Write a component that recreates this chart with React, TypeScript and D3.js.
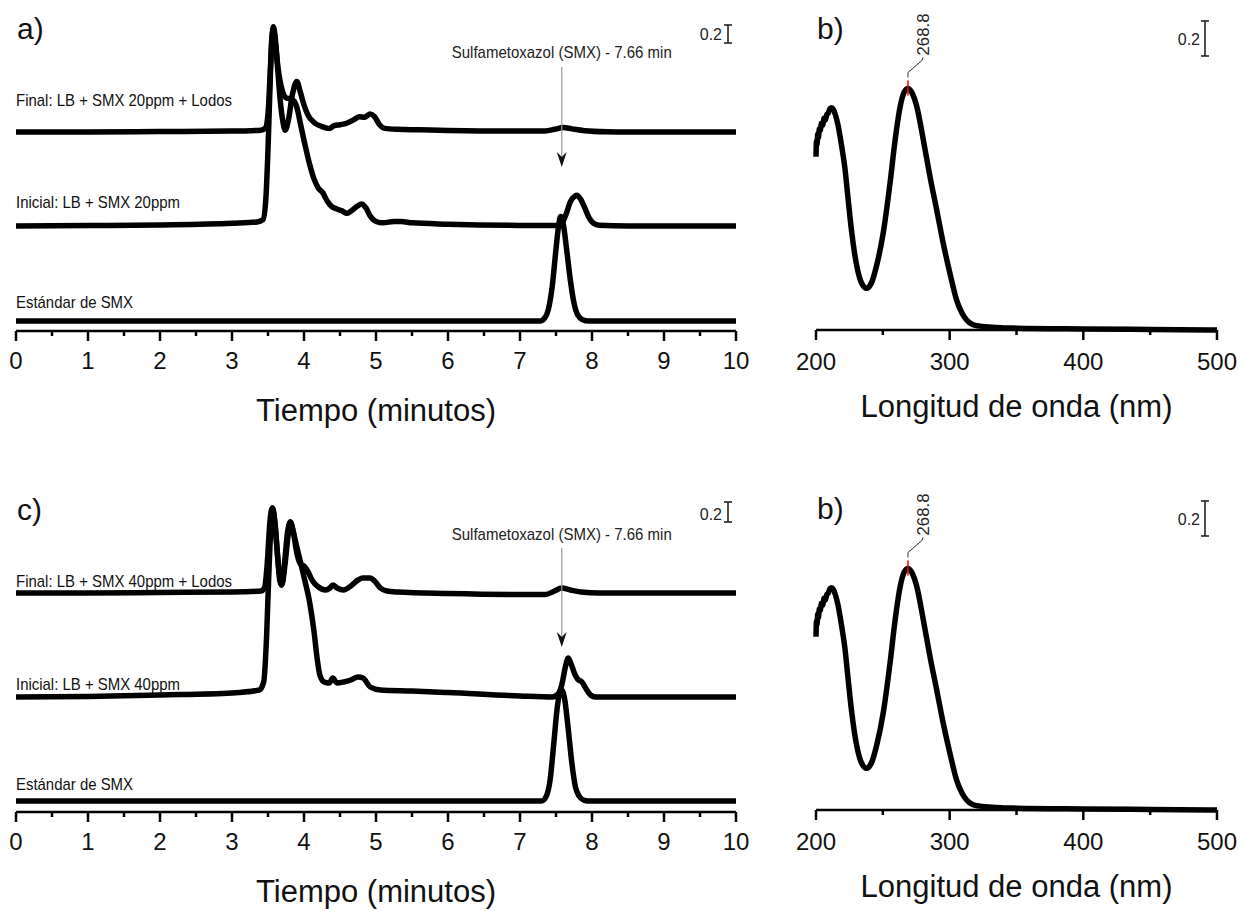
import React from 'react';
import * as d3 from 'd3';

type Pt = [number, number];

// ---------- DATA (absorbance units, AU) ----------
// Panel a) 20 ppm chromatograms: [time (min), AU above own baseline]
const finalA: Pt[] = [[0,0],[1,0],[2,0.005],[3,0.01],[3.4,0.02],[3.46,0.04],[3.5,0.2],[3.53,0.65],[3.555,1.05],[3.575,1.17],[3.6,1.05],[3.63,0.75],[3.67,0.35],[3.71,0.1],[3.74,0.02],[3.78,0.12],[3.84,0.42],[3.9,0.56],[3.95,0.44],[4.0,0.3],[4.06,0.18],[4.15,0.1],[4.25,0.06],[4.35,0.04],[4.42,0.07],[4.5,0.08],[4.6,0.1],[4.7,0.14],[4.77,0.17],[4.84,0.165],[4.92,0.2],[4.98,0.17],[5.05,0.08],[5.12,0.04],[5.3,0.03],[5.6,0.025],[6,0.018],[7,0.01],[7.35,0.012],[7.48,0.03],[7.6,0.05],[7.72,0.035],[7.9,0.015],[8.2,0.003],[8.5,0],[10,0]];
const inicialA: Pt[] = [[0,0],[1,0.005],[2,0.012],[3,0.03],[3.35,0.045],[3.43,0.07],[3.47,0.3],[3.5,0.85],[3.53,1.6],[3.555,2.1],[3.575,2.18],[3.6,2.05],[3.64,1.75],[3.7,1.5],[3.76,1.42],[3.83,1.41],[3.9,1.32],[3.96,1.1],[4.02,0.88],[4.08,0.68],[4.14,0.52],[4.2,0.42],[4.26,0.37],[4.32,0.28],[4.38,0.22],[4.45,0.19],[4.52,0.17],[4.6,0.14],[4.66,0.17],[4.74,0.22],[4.8,0.245],[4.86,0.2],[4.92,0.11],[5.0,0.05],[5.1,0.035],[5.25,0.05],[5.35,0.05],[5.5,0.035],[6,0.02],[7,0.006],[7.5,0.005],[7.58,0.03],[7.64,0.13],[7.7,0.27],[7.76,0.33],[7.79,0.34],[7.84,0.3],[7.9,0.2],[7.96,0.09],[8.02,0.03],[8.1,0.008],[8.5,0],[10,0]];
const estandarA: Pt[] = [[0,0],[7.28,0],[7.34,0.03],[7.4,0.15],[7.45,0.4],[7.5,0.8],[7.54,1.08],[7.565,1.16],[7.6,1.08],[7.65,0.78],[7.7,0.45],[7.75,0.2],[7.8,0.07],[7.87,0.015],[7.95,0],[10,0]];
const offsetsA = [2.1, 1.056, 0];
const labelsA = ['Final: LB + SMX 20ppm + Lodos', 'Inicial: LB + SMX 20ppm', 'Estándar de SMX'];

// Panel c) 40 ppm chromatograms
const finalC: Pt[] = [[0,0],[1,0],[2,0.005],[3,0.01],[3.4,0.02],[3.45,0.05],[3.49,0.3],[3.525,0.7],[3.56,0.85],[3.595,0.7],[3.63,0.4],[3.665,0.12],[3.69,0.08],[3.73,0.3],[3.77,0.6],[3.81,0.71],[3.85,0.62],[3.9,0.4],[3.95,0.29],[4.0,0.27],[4.05,0.22],[4.12,0.12],[4.2,0.06],[4.3,0.03],[4.36,0.05],[4.4,0.08],[4.46,0.05],[4.55,0.03],[4.65,0.07],[4.75,0.13],[4.82,0.15],[4.92,0.15],[4.98,0.12],[5.06,0.05],[5.15,0.02],[5.3,0.01],[6,-0.005],[7,-0.015],[7.35,-0.015],[7.48,0.02],[7.58,0.05],[7.7,0.03],[7.85,0.01],[8.1,0],[10,0]];
const inicialC: Pt[] = [[0,0],[1,0.005],[2,0.02],[3,0.04],[3.38,0.07],[3.44,0.15],[3.48,0.6],[3.51,1.2],[3.54,1.7],[3.565,1.89],[3.6,1.72],[3.64,1.35],[3.69,1.12],[3.74,1.35],[3.78,1.62],[3.81,1.75],[3.85,1.65],[3.92,1.44],[4.0,1.2],[4.08,0.94],[4.14,0.65],[4.18,0.4],[4.22,0.22],[4.28,0.15],[4.35,0.14],[4.4,0.19],[4.46,0.14],[4.55,0.15],[4.65,0.17],[4.75,0.2],[4.82,0.19],[4.92,0.1],[5.06,0.07],[5.5,0.06],[6,0.045],[7,0.01],[7.45,0.0],[7.53,0.03],[7.58,0.12],[7.63,0.3],[7.67,0.39],[7.71,0.33],[7.76,0.23],[7.8,0.18],[7.86,0.15],[7.92,0.08],[7.98,0.02],[8.05,0.0],[10,0]];
const estandarC: Pt[] = [[0,0],[7.3,0],[7.36,0.04],[7.42,0.22],[7.47,0.58],[7.52,0.95],[7.56,1.1],[7.58,1.11],[7.62,1.02],[7.67,0.72],[7.72,0.38],[7.77,0.14],[7.82,0.05],[7.88,0.01],[7.95,0],[10,0]];
const offsetsC = [2.08, 1.04, 0];
const labelsC = ['Final: LB + SMX 40ppm + Lodos', 'Inicial: LB + SMX 40ppm', 'Estándar de SMX'];

// Panel b) UV spectrum of SMX: [wavelength (nm), AU]
const spectrumB: Pt[] = [[200,0.99],[200.4,1.08],[200.8,1.06],[201.3,1.12],[201.8,1.1],[202.5,1.15],[203.2,1.14],[204,1.18],[205,1.17],[206,1.21],[207,1.2],[208,1.23],[209.2,1.24],[210.5,1.265],[211.7,1.27],[213,1.26],[214.5,1.23],[216.5,1.17],[219,1.06],[221.7,0.92],[224,0.75],[226.7,0.56],[230.4,0.37],[234,0.27],[237.9,0.238],[241.5,0.27],[245.4,0.37],[250.4,0.56],[255.4,0.84],[259.1,1.08],[262.8,1.27],[266,1.36],[268.8,1.38],[271.5,1.36],[275.3,1.28],[280.3,1.086],[285.3,0.876],[290.3,0.686],[295.2,0.495],[300.2,0.324],[305.2,0.171],[309,0.1],[312.7,0.057],[317,0.032],[322.7,0.022],[335,0.015],[347.6,0.011],[400,0.006],[450,0.003],[500,0]];
const peakWavelength = 268.8;
const peakLabel = '268.8';

const timeTicks = [0,1,2,3,4,5,6,7,8,9,10];
const timeMinorTicks = [0.5,1.5,2.5,3.5,4.5,5.5,6.5,7.5,8.5,9.5];
const wlTicks = [200,300,400,500];
const wlMinorTicks = [250,350,450];
const annotationText = 'Sulfametoxazol (SMX) - 7.66 min';
const smxArrowTime = 7.58;
const scaleBarValue = 0.2;
const scaleBarLabel = '0.2';
const timeTitle = 'Tiempo (minutos)';
const wlTitle = 'Longitud de onda (nm)';

// ---------- STYLE / LAYOUT ----------
const FONT = '"Liberation Sans", Arial, Helvetica, sans-serif';
const LW = 5.5;

interface ChromLayout {
  base: number; ppu: number; axisY: number; letter: string; letterY: number;
  labelDy: number[]; annoY: number; arrowTop: number; arrowTip: number;
  scaleTextY: number; barTop: number;
}

const layoutA: ChromLayout = { base: 321, ppu: 90, axisY: 331, letter: 'a)', letterY: 39, labelDy: [-26, -18, -13], annoY: 58, arrowTop: 67, arrowTip: 167, scaleTextY: 40, barTop: 25 };
const layoutC: ChromLayout = { base: 801, ppu: 100, axisY: 812, letter: 'c)', letterY: 520, labelDy: [-6, -7, -11], annoY: 540, arrowTop: 548, arrowTip: 647, scaleTextY: 520, barTop: 502 };

const xTime = d3.scaleLinear().domain([0, 10]).range([16, 736]);
const xWl = d3.scaleLinear().domain([200, 500]).range([816, 1217]);

function ScaleBar({ x, top, len, textX, textY }: { x: number; top: number; len: number; textX: number; textY: number }) {
  return (
    <g>
      <text x={textX} y={textY} fontSize={16} textAnchor="end" fontFamily={FONT} fill="#222">{scaleBarLabel}</text>
      <line x1={x} x2={x} y1={top} y2={top + len} stroke="#222" strokeWidth={1.6} />
      <line x1={x - 4} x2={x + 4} y1={top} y2={top} stroke="#222" strokeWidth={1.6} />
      <line x1={x - 4} x2={x + 4} y1={top + len} y2={top + len} stroke="#222" strokeWidth={1.6} />
    </g>
  );
}

function Chrom({ L, series, offsets, labels }: { L: ChromLayout; series: Pt[][]; offsets: number[]; labels: string[] }) {
  const y = d3.scaleLinear().domain([0, 1]).range([L.base, L.base - L.ppu]);
  const labelWidths = [216, 164, 117];
  const ax = L.axisY;
  const arrowX = xTime(smxArrowTime);
  return (
    <g>
      <text x={17} y={L.letterY} fontSize={30} fontFamily={FONT} fill="#111">{L.letter}</text>
      {series.map((s, i) => {
        const line = d3.line<Pt>().x(d => xTime(d[0])).y(d => y(d[1] + offsets[i])).curve(d3.curveMonotoneX);
        return <path key={'s' + i} d={line(s) || ''} fill="none" stroke="#000" strokeWidth={LW} strokeLinejoin="round" />;
      })}
      {labels.map((t, i) => (
        <text key={'l' + i} x={16} y={y(offsets[i]) + L.labelDy[i]} fontSize={17} fontFamily={FONT} fill="#111"
          textLength={labelWidths[i]} lengthAdjust="spacingAndGlyphs">{t}</text>
      ))}
      <text x={arrowX} y={L.annoY} fontSize={17} fontFamily={FONT} fill="#222" textAnchor="middle"
        textLength={220} lengthAdjust="spacingAndGlyphs">{annotationText}</text>
      <line x1={arrowX} x2={arrowX} y1={L.arrowTop} y2={L.arrowTip - 4} stroke="#999" strokeWidth={1.2} />
      <path d={`M${arrowX - 5},${L.arrowTip - 15} L${arrowX},${L.arrowTip} L${arrowX + 5},${L.arrowTip - 15} L${arrowX},${L.arrowTip - 10} Z`} fill="#111" />
      <ScaleBar x={728} top={L.barTop} len={y(0) - y(scaleBarValue)} textX={722} textY={L.scaleTextY} />
      <line x1={xTime(0)} x2={xTime(10)} y1={ax} y2={ax} stroke="#000" strokeWidth={2.5} />
      {timeTicks.map(t => <line key={'M' + t} x1={xTime(t)} x2={xTime(t)} y1={ax} y2={ax + 10} stroke="#000" strokeWidth={2.5} />)}
      {timeMinorTicks.map(t => <line key={'m' + t} x1={xTime(t)} x2={xTime(t)} y1={ax} y2={ax + 5} stroke="#000" strokeWidth={2.5} />)}
      {timeTicks.map(t => <text key={'t' + t} x={xTime(t)} y={ax + 38} fontSize={24} textAnchor="middle" fontFamily={FONT} fill="#111">{t}</text>)}
      <text x={(xTime(0) + xTime(10)) / 2} y={ax + 90} fontSize={31} textAnchor="middle" fontFamily={FONT} fill="#111">{timeTitle}</text>
    </g>
  );
}

function Spectrum({ dy }: { dy: number }) {
  const base = 330 + dy;
  const ppu = 175;
  const y = d3.scaleLinear().domain([0, 1]).range([base, base - ppu]);
  const line = d3.line<Pt>().x(d => xWl(d[0])).y(d => y(d[1])).curve(d3.curveMonotoneX);
  const peakVal = spectrumB.find(d => d[0] === peakWavelength)![1];
  const px = xWl(peakWavelength);
  const py = y(peakVal);
  return (
    <g>
      <text x={817} y={39 + dy} fontSize={30} fontFamily={FONT} fill="#111">b)</text>
      <line x1={xWl(200)} x2={xWl(500)} y1={base} y2={base} stroke="#000" strokeWidth={2.5} />
      {wlTicks.map(t => <line key={'M' + t} x1={xWl(t)} x2={xWl(t)} y1={base} y2={base + 10} stroke="#000" strokeWidth={2.5} />)}
      {wlMinorTicks.map(t => <line key={'m' + t} x1={xWl(t)} x2={xWl(t)} y1={base} y2={base + 5} stroke="#000" strokeWidth={2.5} />)}
      <path d={line(spectrumB) || ''} fill="none" stroke="#000" strokeWidth={LW} strokeLinejoin="round" />
      <line x1={px} x2={px} y1={py - 8} y2={py + 7} stroke="#e00" strokeWidth={1.5} />
      <path d={`M${px},${py - 11} L${px},${py - 16} L${px + 14},${py - 28} L${px + 15},${py - 31}`} fill="none" stroke="#333" strokeWidth={1} />
      <text transform={`translate(${px + 21},${py - 33}) rotate(-90)`} fontSize={17} fontFamily={FONT} fill="#222"
        textLength={42} lengthAdjust="spacingAndGlyphs">{peakLabel}</text>
      <ScaleBar x={1205} top={21 + dy} len={y(0) - y(scaleBarValue)} textX={1200} textY={45 + dy} />
      {wlTicks.map(t => <text key={'t' + t} x={xWl(t)} y={base + 40} fontSize={24} textAnchor="middle" fontFamily={FONT} fill="#111">{t}</text>)}
      <text x={(xWl(200) + xWl(500)) / 2} y={base + 87} fontSize={31} textAnchor="middle" fontFamily={FONT} fill="#111">{wlTitle}</text>
    </g>
  );
}

export default function App() {
  return (
    <svg width={1240} height={911} style={{ position: 'absolute', left: 0, top: 0, background: '#fff' }}>
      <rect x={0} y={0} width={1240} height={911} fill="#fff" />
      <Chrom L={layoutA} series={[finalA, inicialA, estandarA]} offsets={offsetsA} labels={labelsA} />
      <Chrom L={layoutC} series={[finalC, inicialC, estandarC]} offsets={offsetsC} labels={labelsC} />
      <Spectrum dy={0} />
      <Spectrum dy={480} />
    </svg>
  );
}
